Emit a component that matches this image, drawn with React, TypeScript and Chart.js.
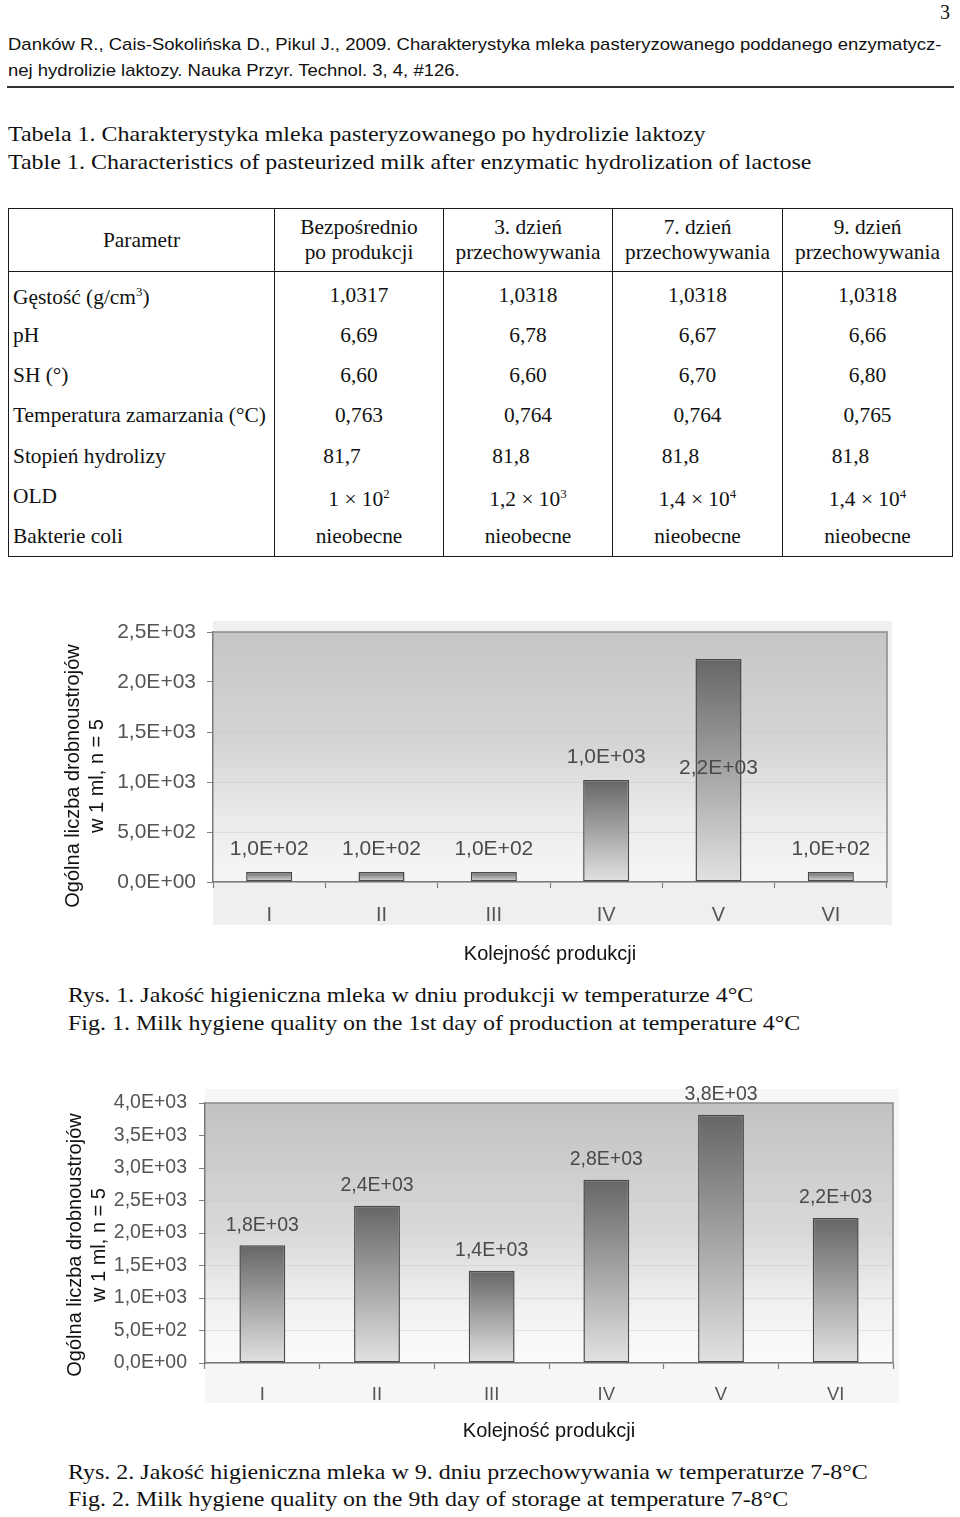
import React, { useEffect, useRef } from "react";
import { Chart, registerables } from "chart.js";

Chart.register(...registerables);

// ---------------- data ----------------
const pageNumber = "3";
const citationLines = [
  "Danków R., Cais-Sokolińska D., Pikul J., 2009. Charakterystyka mleka pasteryzowanego poddanego enzymatycz-",
  "nej hydrolizie laktozy. Nauka Przyr. Technol. 3, 4, #126.",
];
const tableTitlePl = "Tabela 1. Charakterystyka mleka pasteryzowanego po hydrolizie laktozy";
const tableTitleEn = "Table 1. Characteristics of pasteurized milk after enzymatic hydrolization of lactose";
const tableFirstHeader = "Parametr";
const tableHeaders = [
  ["Bezpośrednio", "po produkcji"],
  ["3. dzień", "przechowywania"],
  ["7. dzień", "przechowywania"],
  ["9. dzień", "przechowywania"],
];
const densityValues = ["1,0317", "1,0318", "1,0318", "1,0318"];
const phValues = ["6,69", "6,78", "6,67", "6,66"];
const shValues = ["6,60", "6,60", "6,70", "6,80"];
const freezingValues = ["0,763", "0,764", "0,764", "0,765"];
const hydrolysisValues = ["81,7", "81,8", "81,8", "81,8"];
const oldMantissas = ["1", "1,2", "1,4", "1,4"];
const oldExponents = ["2", "3", "4", "4"];
const coliValues = ["nieobecne", "nieobecne", "nieobecne", "nieobecne"];

const categories = ["I", "II", "III", "IV", "V", "VI"];
const day1Counts = [100, 100, 100, 1020, 2230, 100];
const day9Counts = [1810, 2420, 1420, 2820, 3820, 2230];
const day1AxisMax = 2500;
const day9AxisMax = 4000;
const axisStep = 500;
const yAxisTitle = ["Ogólna liczba drobnoustrojów", "w 1 ml, n = 5"];
const xAxisTitle = "Kolejność produkcji";
const fig1Caption = [
  "Rys. 1. Jakość higieniczna mleka w dniu produkcji w temperaturze 4°C",
  "Fig. 1. Milk hygiene quality on the 1st day of production at temperature 4°C",
];
const fig2Caption = [
  "Rys. 2. Jakość higieniczna mleka w 9. dniu przechowywania w temperaturze 7-8°C",
  "Fig. 2. Milk hygiene quality on the 9th day of storage at temperature 7-8°C",
];

// ---------------- helpers ----------------
const SANS = "'Liberation Sans', Arial, sans-serif";
const SERIF = "'Liberation Serif', 'Times New Roman', serif";

function sci(v: number): string {
  const [m, e] = v.toExponential(1).split("e");
  const exp = parseInt(e, 10);
  return m.replace(".", ",") + "E" + (exp < 0 ? "-" : "+") + String(Math.abs(exp)).padStart(2, "0");
}

type ChartProps = {
  values: number[];
  max: number;
  left: number;
  top: number;
  width: number;
  height: number;
  padTop: number;
  padRight: number;
  yWidth: number;
  xHeight: number;
  tickSize: number;
  yTickPad: number;
  xTickPad: number;
  xTitlePadBottom: number;
  titleX: number;
  titleShift: number;
  barPct: number;
  labelGap: number;
  labelAt: Record<number, number>;
  outerColor: string;
  outerExt: { top: number; bottom: number; right: number };
  bgStops: [number, string][];
};

function BarChart(p: ChartProps) {
  const ref = useRef<HTMLCanvasElement | null>(null);
  useEffect(() => {
    if (!ref.current) return;
    const bgPlugin = {
      id: "plotBackground",
      beforeDraw(chart: any) {
        const { ctx, chartArea: a } = chart;
        if (!a) return;
        ctx.save();
        ctx.fillStyle = p.outerColor;
        ctx.fillRect(a.left, a.top - p.outerExt.top, a.right - a.left + p.outerExt.right, a.bottom - a.top + p.outerExt.top + p.outerExt.bottom);
        const g = ctx.createLinearGradient(0, a.top, 0, a.bottom);
        p.bgStops.forEach(([o, c]) => g.addColorStop(o, c));
        ctx.fillStyle = g;
        ctx.fillRect(a.left, a.top, a.right - a.left, a.bottom - a.top);
        ctx.restore();
      },
    };
    const framePlugin = {
      id: "plotFrame",
      afterDraw(chart: any) {
        const { ctx, chartArea: a } = chart;
        if (!a) return;
        ctx.save();
        ctx.strokeStyle = "#8a8a8a";
        ctx.lineWidth = 1.5;
        ctx.beginPath();
        ctx.moveTo(a.left, a.top);
        ctx.lineTo(a.right, a.top);
        ctx.lineTo(a.right, a.bottom);
        ctx.stroke();
        ctx.fillStyle = "#111";
        ctx.font = `20px ${SANS}`;
        ctx.textAlign = "center";
        ctx.textBaseline = "middle";
        const cy = (a.top + a.bottom) / 2 + p.titleShift;
        yAxisTitle.forEach((line, i) => {
          ctx.save();
          ctx.translate(p.titleX + i * 24, cy);
          ctx.rotate(-Math.PI / 2);
          ctx.fillText(line, 0, 0);
          ctx.restore();
        });
        ctx.restore();
      },
    };
    const labelPlugin = {
      id: "valueLabels",
      afterDatasetsDraw(chart: any) {
        const { ctx } = chart;
        const meta = chart.getDatasetMeta(0);
        const ys = chart.scales.y;
        ctx.save();
        ctx.font = `${p.tickSize}px ${SANS}`;
        ctx.fillStyle = "#4a4a4a";
        ctx.textAlign = "center";
        ctx.textBaseline = "middle";
        meta.data.forEach((bar: any, i: number) => {
          const y = p.labelAt[i] !== undefined ? ys.getPixelForValue(p.labelAt[i]) : bar.y - p.labelGap;
          ctx.fillText(sci(p.values[i]), bar.x, y);
        });
        ctx.restore();
      },
    };
    const chart = new Chart(ref.current, {
      type: "bar",
      data: {
        labels: categories,
        datasets: [
          {
            data: p.values,
            backgroundColor: (c: any) => {
              const ys = c.chart.scales?.y;
              if (!ys || c.type !== "data") return "#999";
              const t = ys.getPixelForValue(c.raw as number);
              const b = ys.getPixelForValue(0);
              if (!Number.isFinite(t) || !Number.isFinite(b) || t === b) return "#999";
              const g = c.chart.ctx.createLinearGradient(0, t, 0, b);
              g.addColorStop(0, "#666666");
              g.addColorStop(0.45, "#9e9e9e");
              g.addColorStop(1, "#e2e2e2");
              return g;
            },
            borderColor: "#4a4a4a",
            borderWidth: 1.5,
            borderSkipped: false,
            categoryPercentage: 1,
            barPercentage: p.barPct,
          },
        ],
      },
      options: {
        animation: false,
        responsive: true,
        maintainAspectRatio: false,
        layout: { padding: { top: p.padTop, right: p.padRight, left: 0, bottom: 0 } },
        plugins: { legend: { display: false }, tooltip: { enabled: false } },
        scales: {
          x: {
            grid: {
              display: true,
              offset: true,
              drawOnChartArea: false,
              drawTicks: true,
              tickLength: 6,
              tickColor: "#808080",
              tickWidth: 1.2,
            },
            border: { display: true, color: "#7a7a7a", width: 1.5 },
            ticks: { color: "#555", font: { family: SANS, size: p.tickSize - 1 }, padding: p.xTickPad },
            title: {
              display: true,
              text: xAxisTitle,
              color: "#111",
              font: { family: SANS, size: 20, lineHeight: 1.2 },
              padding: { top: 0, bottom: p.xTitlePadBottom },
            },
            afterFit: (s: any) => {
              s.height = p.xHeight;
            },
          },
          y: {
            min: 0,
            max: p.max,
            ticks: {
              stepSize: axisStep,
              color: "#555",
              font: { family: SANS, size: p.tickSize },
              padding: p.yTickPad,
              callback: (v: any) => sci(Number(v)),
            },
            grid: {
              color: "rgba(200,200,200,0.45)",
              tickColor: "#808080",
              tickLength: 6,
              lineWidth: 1,
            },
            border: { display: true, color: "#7a7a7a", width: 1.5 },
            afterFit: (s: any) => {
              s.width = p.yWidth;
            },
          },
        },
      },
      plugins: [bgPlugin, framePlugin, labelPlugin],
    } as any);
    return () => chart.destroy();
  }, []);
  return (
    <div style={{ position: "absolute", left: p.left, top: p.top, width: p.width, height: p.height }}>
      <canvas ref={ref} />
    </div>
  );
}

function Lines({ lines, left, top, lh, size, family, sx }: any) {
  return (
    <div
      style={{
        position: "absolute",
        left,
        top,
        width: 800,
        fontFamily: family,
        fontSize: size,
        lineHeight: `${lh}px`,
        color: "#111",
        whiteSpace: "nowrap",
        transform: `scaleX(${sx ?? 1})`,
        transformOrigin: "0 0",
      }}
    >
      {lines.map((l: string, i: number) => (
        <div key={i}>{l}</div>
      ))}
    </div>
  );
}

const border = "1.5px solid #1a1a1a";

function DataTable() {
  const cellBase: React.CSSProperties = { padding: 0, borderLeft: border, borderRight: border, textAlign: "center", verticalAlign: "middle" };
  const labelCell: React.CSSProperties = { ...cellBase, textAlign: "left", paddingLeft: 4 };
  const rows: { label: React.ReactNode; values: React.ReactNode[]; shift?: number }[] = [
    { label: <>Gęstość (g/cm<sup style={{ fontSize: "0.6em" }}>3</sup>)</>, values: densityValues },
    { label: "pH", values: phValues },
    { label: "SH (°)", values: shValues },
    { label: "Temperatura zamarzania (°C)", values: freezingValues },
    { label: "Stopień hydrolizy", values: hydrolysisValues, shift: 34 },
    {
      label: "OLD",
      values: oldMantissas.map((m, i) => (
        <>
          {m} × 10<sup style={{ fontSize: "0.6em" }}>{oldExponents[i]}</sup>
        </>
      )),
    },
    { label: "Bakterie coli", values: coliValues },
  ];
  return (
    <table
      style={{
        position: "absolute",
        left: 8,
        top: 208,
        width: 944,
        borderCollapse: "collapse",
        tableLayout: "fixed",
        fontFamily: SERIF,
        fontSize: 21.4,
        color: "#111",
        border,
      }}
    >
      <colgroup>
        <col style={{ width: 266 }} />
        <col style={{ width: 169 }} />
        <col style={{ width: 169 }} />
        <col style={{ width: 170 }} />
        <col style={{ width: 170 }} />
      </colgroup>
      <thead>
        <tr style={{ height: 63 }}>
          <th style={{ ...cellBase, fontWeight: "normal", borderBottom: border, lineHeight: "25px" }}>{tableFirstHeader}</th>
          {tableHeaders.map((h, i) => (
            <th key={i} style={{ ...cellBase, fontWeight: "normal", borderBottom: border, lineHeight: "25px" }}>
              {h[0]}
              <br />
              {h[1]}
            </th>
          ))}
        </tr>
      </thead>
      <tbody>
        {rows.map((r, ri) => (
          <tr key={ri} style={{ height: ri === 0 ? 43 : 40.4 }}>
            <td style={{ ...labelCell, lineHeight: "24px", paddingTop: ri === 0 ? 3 : 0 }}>{r.label}</td>
            {r.values.map((v, vi) => (
              <td key={vi} style={{ ...cellBase, lineHeight: "24px", paddingRight: r.shift ?? 0, paddingTop: ri === 0 ? 3 : 0 }}>
                {v}
              </td>
            ))}
          </tr>
        ))}
      </tbody>
    </table>
  );
}

export default function App() {
  return (
    <div style={{ position: "absolute", left: 0, top: 0, width: 960, height: 1517, background: "#fff", overflow: "hidden" }}>
      <div style={{ position: "absolute", left: 900, top: 0, width: 50, textAlign: "right", fontFamily: SERIF, fontSize: 20, lineHeight: "24px", color: "#111" }}>
        {pageNumber}
      </div>
      <Lines lines={citationLines} left={8} top={32} lh={26} size={17} family={SANS} sx={1.088} />
      <div style={{ position: "absolute", left: 7, top: 86, width: 947, height: 2, background: "#333" }} />
      <Lines lines={[tableTitlePl, tableTitleEn]} left={8} top={120} lh={28} size={21} family={SERIF} sx={1.142} />
      <DataTable />
      <BarChart
        values={day1Counts}
        max={day1AxisMax}
        left={40}
        top={600}
        width={880}
        height={370}
        padTop={32}
        padRight={33}
        yWidth={173}
        xHeight={88}
        tickSize={21}
        yTickPad={11}
        xTickPad={15}
        xTitlePadBottom={4}
        titleX={33}
        titleShift={19}
        barPct={0.41}
        labelGap={23}
        labelAt={{ 4: 1140 }}
        outerColor="#efefef"
        outerExt={{ top: 11, bottom: 43, right: 5 }}
        bgStops={[
          [0, "#c6c6c6"],
          [0.45, "#d5d5d5"],
          [0.75, "#ebebeb"],
          [1, "#f6f6f6"],
        ]}
      />
      <Lines lines={fig1Caption} left={68} top={981} lh={28} size={21} family={SERIF} sx={1.142} />
      <BarChart
        values={day9Counts}
        max={day9AxisMax}
        left={40}
        top={1075}
        width={880}
        height={370}
        padTop={28}
        padRight={27}
        yWidth={165}
        xHeight={82}
        tickSize={19.5}
        yTickPad={12}
        xTickPad={15}
        xTitlePadBottom={2}
        titleX={35}
        titleShift={12}
        barPct={0.4}
        labelGap={20}
        labelAt={{}}
        outerColor="#f6f6f6"
        outerExt={{ top: 14, bottom: 40, right: 6 }}
        bgStops={[
          [0, "#c2c2c2"],
          [0.5, "#d9d9d9"],
          [0.8, "#f2f2f2"],
          [1, "#fbfbfb"],
        ]}
      />
      <Lines lines={fig2Caption} left={68} top={1459} lh={27} size={21} family={SERIF} sx={1.142} />
    </div>
  );
}
